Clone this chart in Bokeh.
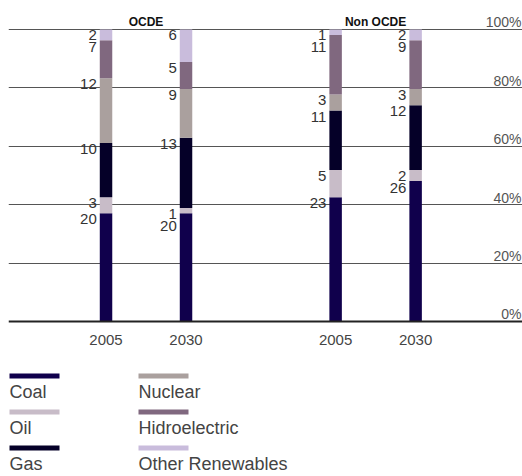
import numpy as np
from bokeh.plotting import figure
from bokeh.models import Range1d, ColumnDataSource
from bokeh.layouts import column
from bokeh.core.properties import value
from bokeh.embed import file_html
from bokeh.resources import INLINE

# ---- data ----
groups = ["OCDE", "Non OCDE"]
years = ["2005", "2030"]
sources = ["Coal", "Oil", "Gas", "Nuclear", "Hidroelectric", "Other Renewables"]
coal = [20, 20, 23, 26]
oil = [3, 1, 5, 2]
gas = [10, 13, 11, 12]
nuclear = [12, 9, 3, 3]
hydro = [7, 5, 11, 9]
renew = [2, 6, 1, 2]
pct_ticks = [0, 20, 40, 60, 80, 100]
pct_labels = ["0%", "20%", "40%", "60%", "80%", "100%"]
colors = ["#10004c", "#c8bcc8", "#050028", "#aaa09e", "#80687f", "#c9bcdc"]

FONT = value("Liberation Sans")

series = [coal, oil, gas, nuclear, hydro, renew]
vals = np.array(series, dtype=float)          # (6, 4)
totals = vals.sum(axis=0)
pct = vals / totals * 100.0

group_gap = 2.87
xs = [gi * group_gap + yi for gi in range(len(groups)) for yi in range(len(years))]
bar_years = [y for _ in groups for y in years]

W, H = 522, 353
LEFT = 8
x_start, x_end = -1.219, 5.206
y_start, y_end = -10.96, 109.93

p = figure(width=W, height=H, x_range=Range1d(x_start, x_end), y_range=Range1d(y_start, y_end),
           output_backend="svg", toolbar_location=None,
           x_axis_location=None, y_axis_location=None,
           min_border=0, min_border_left=LEFT, outline_line_color=None)
p.grid.visible = False

p.hspan(y=pct_ticks[1:], line_color="#555555", line_width=1)

data = {"x": xs}
for name, row in zip(sources, pct):
    data[name] = list(row)
src = ColumnDataSource(data)
p.vbar_stack(sources, x="x", width=0.156, fill_color=colors, line_color=None, source=src)

p.hspan(y=[pct_ticks[0]], line_color="#222222", line_width=2)

# value labels: right-aligned, at segment tops, avoiding overlaps
label_h = 4.1
lx, ly, lt = [], [], []
for b in range(len(xs)):
    tops = np.cumsum(pct[:, b])
    prev = None
    for s in range(len(sources) - 1, -1, -1):
        yy = tops[s]
        if prev is not None:
            yy = min(yy, prev - label_h)
        prev = yy
        lx.append(xs[b] - 0.078)
        ly.append(yy)
        lt.append(str(int(vals[s, b])))
p.text(x=lx, y=ly, text=lt, text_align="right", text_baseline="top", x_offset=-3, y_offset=1,
       text_font=FONT, text_font_size="15px", text_color="#333333")

# percent labels
p.text(x=[x_end] * len(pct_ticks), y=pct_ticks, text=pct_labels, text_align="right",
       text_baseline="bottom", x_offset=-1, y_offset=1,
       text_font=FONT, text_font_size="14px", text_color="#555555")

# group headers
gx = [np.mean(xs[i * len(years):(i + 1) * len(years)]) for i in range(len(groups))]
p.text(x=gx, y=[100] * len(groups), text=groups, text_align="center", text_baseline="bottom",
       y_offset=0, text_font=FONT, text_font_size="12px", text_font_style="bold",
       text_color="#111111")

# year labels
p.text(x=xs, y=[0] * len(xs), text=bar_years, text_align="center", text_baseline="top",
       y_offset=14, text_font=FONT, text_font_size="15px", text_color="#444444")

# ---- legend figure ----
LH = 123
leg = figure(width=W, height=LH, x_range=Range1d(LEFT, W), y_range=Range1d(LH, 0),
             output_backend="svg", toolbar_location=None,
             x_axis_location=None, y_axis_location=None,
             min_border=0, min_border_left=LEFT, outline_line_color=None)
leg.grid.visible = False
col_x = [9, 138]
row_y = [20, 56, 92]
sw_x, sw_y, sw_c, tx, ty, tt = [], [], [], [], [], []
for i, (name, c) in enumerate(zip(sources, colors)):
    ci, ri = divmod(i, 3)
    sw_x.append(col_x[ci] + 25)
    sw_y.append(row_y[ri] + 2.5)
    sw_c.append(c)
    tx.append(col_x[ci])
    ty.append(row_y[ri] + 8)
    tt.append(name)
leg.rect(x=sw_x, y=sw_y, width=50, height=5, fill_color=sw_c, line_color=None)
leg.text(x=tx, y=ty, text=tt, text_align="left", text_baseline="top",
         text_font=FONT, text_font_size="18px", text_color="#444444")

layout = column(p, leg, spacing=0)
open("out.html", "w").write(file_html(layout, INLINE))
